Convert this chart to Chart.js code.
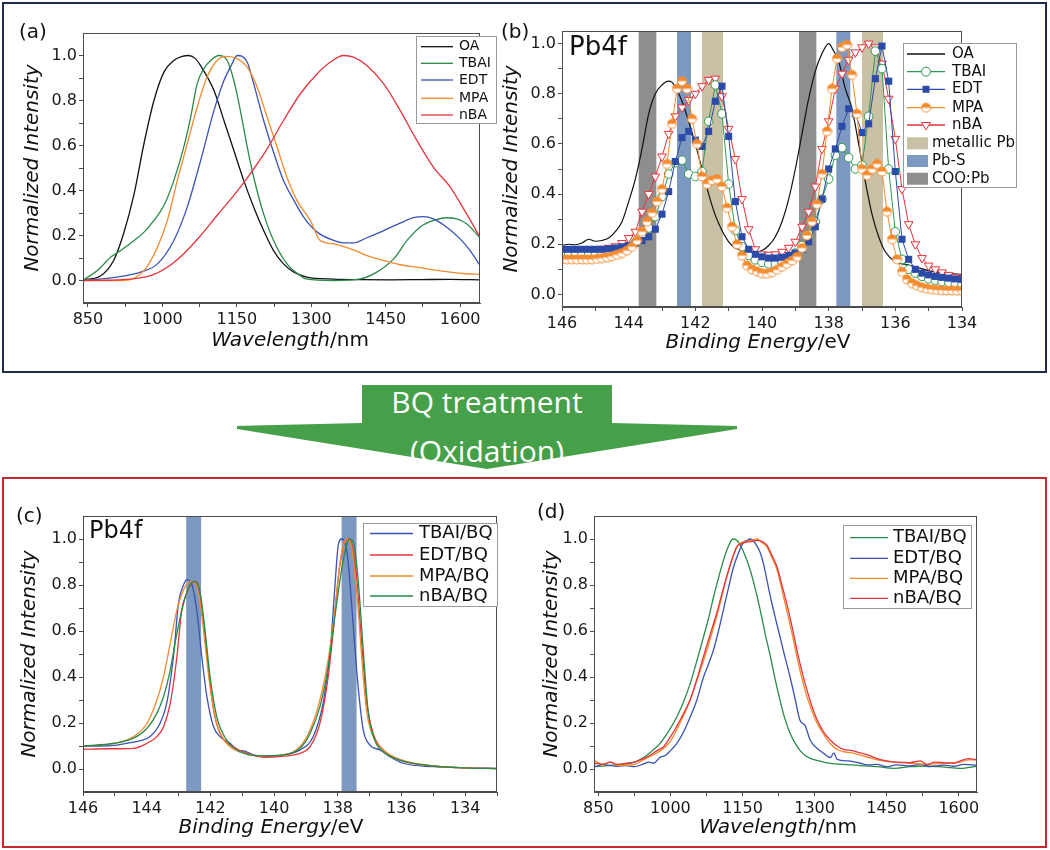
<!DOCTYPE html>
<html><head><meta charset="utf-8">
<script src="https://cdn.jsdelivr.net/npm/chart.js@4.4.1/dist/chart.umd.min.js"></script>
<style>
html,body{margin:0;padding:0;background:#fff}
body{position:relative;width:1050px;height:850px;overflow:hidden}
.frame{position:absolute;box-sizing:border-box}
canvas{position:absolute}
.atext{position:absolute;color:#fff;font-family:"Open Sans",sans-serif;font-size:30px;white-space:nowrap;transform:translateX(-50%);line-height:1}
</style></head><body>
<div class="frame" style="left:2px;top:2px;width:1045px;height:371px;border:2px solid #1e2b4a"></div>
<div class="frame" style="left:2px;top:477px;width:1045px;height:371px;border:2px solid #c62a30"></div>
<svg style="position:absolute;left:0;top:0" width="1050" height="850"><polygon points="362,385 612,385 612,423 737,426 737,429 487,469 237,429 237,426 362,423" fill="#46a049"/></svg>
<div class="atext" style="left:487px;top:387px">BQ treatment</div>
<div class="atext" style="left:487px;top:436px">(Oxidation)</div>
<script>
// ===================== DATA =====================
// ---- shared ticks ----
const wlTicks = [850,925,1000,1075,1150,1225,1300,1375,1450,1525,1600];
const wlLabels = [850,1000,1150,1300,1450,1600];
const yTicks = [0,0.1,0.2,0.3,0.4,0.5,0.6,0.7,0.8,0.9,1.0];
const yLabels = [0,0.2,0.4,0.6,0.8,1.0];
const beTicksB = [146,145,144,143,142,141,140,139,138,137,136,135,134];
const beTicksC = [146,145,144,143,142,141,140,139,138,137,136,135,134,133];
const beLabels = [146,144,142,140,138,136,134];

// ---- panel (a): PL before BQ ----
const aOA_x = [841,875,902,922,943,963,983,1003,1023,1040,1053,1067,1083,1104,1124,1144,1164,1184,1204,1224,1244,1265,1291,1345,1400,1460,1520,1580,1640];
const aOA_y = [.003,.02,.09,.21,.385,.61,.80,.926,.978,.996,1.0,.985,.933,.844,.711,.578,.444,.326,.222,.133,.074,.037,.015,.006,.004,.003,.004,.005,.003];
const aTBAI_x = [841,869,896,916,943,963,983,1003,1023,1043,1057,1070,1083,1097,1114,1130,1144,1157,1171,1184,1204,1224,1251,1278,1291,1345,1399,1432,1466,1493,1519,1546,1573,1593,1613,1640];
const aTBAI_y = [.003,.044,.104,.133,.178,.215,.267,.333,.444,.593,.726,.874,.94,.978,1.0,.98,.889,.756,.593,.459,.296,.178,.074,.022,.006,0,.007,.037,.096,.178,.237,.267,.279,.274,.252,.19];
const aEDT_x = [841,909,956,990,1023,1050,1077,1104,1124,1137,1151,1171,1184,1204,1224,1244,1265,1285,1312,1345,1365,1385,1412,1446,1479,1506,1526,1546,1573,1600,1620,1640];
const aEDT_y = [0,.015,.037,.074,.178,.326,.533,.756,.889,.948,1.0,.97,.874,.711,.57,.444,.356,.281,.215,.178,.167,.167,.19,.222,.255,.279,.284,.274,.237,.185,.133,.067];
const aMPA_x = [841,922,963,990,1010,1030,1050,1070,1090,1110,1130,1151,1171,1191,1211,1231,1251,1271,1298,1318,1345,1379,1412,1446,1479,1513,1546,1580,1613,1640];
const aMPA_y = [0,0,.044,.148,.267,.444,.607,.77,.904,.978,.996,.985,.948,.859,.726,.593,.459,.356,.267,.178,.163,.141,.111,.089,.07,.059,.047,.037,.03,.027];
const aNBA_x = [841,909,976,1010,1043,1077,1110,1144,1177,1211,1244,1278,1312,1338,1365,1385,1412,1446,1479,1513,1546,1580,1613,1640];
const aNBA_y = [0,.003,.022,.059,.119,.2,.289,.378,.474,.585,.711,.83,.919,.97,1.0,.993,.956,.874,.756,.622,.504,.415,.296,.193];

// ---- panel (b): XPS Pb4f before BQ ----
const bOA_x = [146.0,145.8,145.6,145.4,145.2,145.0,144.8,144.6,144.4,144.2,
  144.0,143.8,143.6,143.4,143.2,143.0,142.8,142.7,142.55,142.4,
  142.2,142.0,141.8,141.6,141.4,141.2,141.0,140.8,140.6,140.4,
  140.2,140.0,139.8,139.6,139.4,139.2,139.0,138.8,138.6,138.4,
  138.2,138.0,137.85,137.7,137.5,137.3,137.1,136.9,136.7,136.5,
  136.3,136.0,135.7,135.4,135.0,134.5,134.0];
const bOA_y = [.195,.20,.198,.205,.22,.212,.215,.225,.25,.29,
  .37,.46,.58,.72,.80,.835,.85,.845,.815,.77,
  .69,.60,.50,.40,.315,.255,.21,.185,.175,.168,
  .168,.175,.195,.23,.29,.38,.50,.64,.78,.89,
  .96,1.0,.97,.93,.82,.74,.60,.45,.32,.23,
  .17,.13,.12,.11,.095,.085,.08];
const bE = [146.0,145.8,145.6,145.4,145.2,145.0,144.8,144.6,144.4,144.2,
  144.0,143.8,143.6,143.4,143.2,143.0,142.8,142.6,142.4,142.2,
  142.0,141.8,141.6,141.4,141.2,141.0,140.8,140.6,140.4,140.2,
  140.0,139.8,139.6,139.4,139.2,139.0,138.8,138.6,138.4,138.2,
  138.0,137.8,137.6,137.4,137.2,137.0,136.8,136.6,136.4,136.2,
  136.0,135.8,135.6,135.4,135.2,135.0,134.8,134.6,134.4,134.2,
  134.0];
const bTBAI = [.16,.16,.16,.16,.16,.162,.164,.167,.172,.18,
  .19,.205,.23,.265,.31,.39,.48,.525,.535,.48,
  .47,.49,.69,.835,.72,.44,.255,.19,.155,.138,
  .128,.122,.122,.128,.145,.165,.195,.24,.29,.38,
  .46,.555,.585,.545,.50,.515,.71,.97,.90,.50,
  .25,.14,.10,.085,.072,.062,.056,.052,.048,.045,
  .042];
const bEDT = [.18,.18,.18,.18,.18,.18,.18,.182,.185,.19,
  .195,.205,.215,.23,.26,.32,.41,.53,.625,.65,
  .615,.59,.65,.77,.83,.63,.37,.23,.18,.16,
  .15,.145,.145,.148,.155,.165,.18,.21,.27,.38,
  .50,.58,.67,.74,.72,.645,.68,.86,.99,.85,
  .49,.22,.14,.10,.085,.078,.072,.068,.065,.062,
  .06];
const bNBA = [.175,.175,.175,.177,.178,.18,.182,.186,.192,.205,
  .225,.25,.33,.40,.47,.55,.64,.71,.745,.775,
  .80,.83,.855,.86,.79,.66,.54,.38,.26,.18,
  .16,.158,.16,.17,.186,.21,.27,.33,.43,.58,
  .69,.82,.88,.935,.965,.985,1.0,.985,.92,.78,
  .62,.42,.28,.20,.145,.115,.10,.088,.078,.07,
  .066];
const bMPA_x = [146.0,145.85,145.7,145.55,145.4,145.25,145.1,144.95,144.8,144.65,
  144.5,144.35,144.2,144.05,143.9,143.75,143.6,143.45,143.3,143.15,
  143.0,142.85,142.7,142.55,142.4,142.25,142.1,141.95,141.8,141.65,
  141.5,141.35,141.2,141.05,140.9,140.75,140.6,140.45,140.3,140.15,
  140.0,139.85,139.7,139.55,139.4,139.25,139.1,138.95,138.8,138.65,
  138.5,138.35,138.2,138.05,137.9,137.75,137.6,137.45,137.3,137.15,
  137.0,136.85,136.7,136.55,136.4,136.25,136.1,135.95,135.8,135.65,
  135.5,135.35,135.2,135.05,134.9,134.75,134.6,134.45,134.3,134.15,
  134.0];
const bMPA_y = [.14,.14,.14,.14,.14,.14,.14,.142,.145,.148,
  .152,.158,.165,.175,.19,.215,.25,.29,.325,.37,
  .42,.52,.68,.82,.85,.82,.70,.60,.47,.44,
  .455,.46,.43,.345,.27,.20,.155,.115,.10,.092,
  .085,.083,.088,.098,.11,.122,.135,.15,.185,.235,
  .29,.36,.48,.65,.82,.94,.985,.995,.875,.72,
  .50,.475,.50,.52,.49,.33,.22,.14,.09,.06,
  .045,.035,.028,.023,.02,.018,.017,.016,.016,.015,
  .015];
// reference bands (eV ranges)
const bandMetal = [[141.8,141.17],[137.0,136.37]];
const bandPbS = [[142.55,142.13],[137.77,137.35]];
const bandCOO = [[143.7,143.17],[138.89,138.37]];

// ---- panel (c): XPS Pb4f after BQ ----
const cTBAI_x = [146,145.5,144.93,144.5,144.2,143.89,143.58,143.37,143.16,143.0,142.84,142.74,142.58,142.43,142.27,142.11,141.9,141.7,141.38,141.07,141.0,140.65,140.23,139.71,139.19,138.77,138.46,138.25,138.09,137.99,137.88,137.78,137.67,137.52,137.36,137.2,136.99,136.68,136.37,135.95,135.0,134.0,133.0];
const cTBAI_y = [.10,.10,.104,.115,.123,.141,.199,.286,.489,.721,.801,.823,.801,.692,.489,.315,.184,.141,.112,.075,.08,.061,.054,.061,.083,.141,.286,.489,.794,.968,1.0,.99,.895,.634,.358,.17,.104,.083,.054,.025,.01,.005,.003];
const cEDT_x = [146,145.2,144.41,143.99,143.68,143.47,143.26,143.05,142.9,142.74,142.58,142.48,142.37,142.22,142.06,141.9,141.7,141.28,140.86,140.23,139.61,139.19,138.87,138.56,138.3,138.14,137.99,137.83,137.67,137.57,137.41,137.25,137.1,136.89,136.57,136.05,135.0,134.0,133.0];
const cEDT_y = [.086,.088,.09,.112,.141,.184,.286,.489,.692,.765,.808,.816,.794,.649,.431,.257,.155,.097,.068,.051,.057,.068,.097,.199,.402,.605,.823,.968,1.0,.983,.837,.547,.30,.155,.083,.039,.013,.005,.002];
const cMPA_x = [146,145,144.41,143.99,143.68,143.47,143.26,143.05,142.84,142.64,142.48,142.32,142.17,142.01,141.8,141.49,141.07,140.44,139.71,139.19,138.87,138.56,138.3,138.09,137.93,137.78,137.7,137.57,137.41,137.25,137.1,136.89,136.57,136.05,135.0,134.0,133.0];
const cMPA_y = [.10,.112,.141,.199,.30,.402,.547,.692,.779,.816,.808,.721,.547,.358,.199,.112,.075,.057,.061,.097,.17,.30,.475,.692,.895,.99,1.0,.968,.779,.489,.257,.141,.083,.042,.013,.005,.002];
const cNBA_x = [146,145,144.41,143.99,143.68,143.47,143.26,143.05,142.84,142.64,142.5,142.32,142.17,142.01,141.8,141.49,141.07,140.44,139.71,139.19,138.87,138.56,138.3,138.09,137.88,137.72,137.62,137.49,137.36,137.2,137.05,136.84,136.57,136.05,135.0,134.0,133.0];
const cNBA_y = [.10,.112,.134,.177,.242,.315,.431,.591,.721,.801,.816,.765,.605,.402,.228,.126,.075,.057,.061,.09,.155,.271,.446,.663,.866,.975,1.0,.975,.823,.518,.257,.126,.075,.039,.013,.005,.002];
const bandPbS_c = [[142.76,142.29],[137.88,137.41]];

// ---- panel (d): PL after BQ ----
const dTBAI_x = [843,870,900,925,944,960,978,995,1013,1027,1041,1055,1069,1080,1090,1100,1110,1120,1130,1138,1145,1155,1166,1177,1187,1197,1208,1218,1228,1238,1249,1260,1270,1280,1291,1310,1326,1360,1395,1430,1465,1500,1534,1570,1603,1638];
const dTBAI_y = [.01,.015,.02,.03,.05,.075,.11,.16,.225,.29,.37,.47,.575,.66,.75,.83,.905,.965,1.0,.995,.975,.93,.865,.78,.69,.59,.49,.39,.30,.22,.155,.11,.08,.06,.046,.035,.027,.02,.015,.01,.003,.01,.013,.008,.003,.012];
const dEDT_x = [843,860,875,890,909,925,944,955,965,978,990,1000,1013,1027,1041,1055,1069,1080,1090,1100,1110,1120,1131,1140,1152,1160,1166,1173,1180,1187,1194,1201,1208,1218,1228,1238,1249,1260,1270,1280,1291,1305,1319,1333,1340,1347,1370,1395,1410,1430,1450,1470,1499,1520,1540,1569,1590,1610,1638];
const dEDT_y = [.01,.02,.015,.012,.015,.01,.022,.03,.025,.05,.06,.08,.11,.16,.225,.30,.40,.46,.52,.60,.69,.78,.875,.93,.985,.995,1.0,.99,.97,.94,.89,.82,.75,.66,.575,.49,.40,.30,.21,.19,.125,.09,.068,.05,.07,.042,.035,.025,.018,.02,.01,.018,.013,.02,.01,.017,.012,.02,.017];
const dMPA_x = [843,860,875,890,909,925,944,958,972,986,1000,1013,1027,1041,1055,1069,1082,1096,1107,1117,1128,1138,1148,1159,1170,1180,1190,1201,1211,1222,1232,1242,1253,1263,1273,1284,1295,1305,1319,1333,1347,1360,1378,1395,1412,1430,1465,1499,1534,1569,1603,1620,1638];
const dMPA_y = [.035,.02,.03,.015,.017,.02,.04,.055,.07,.09,.12,.17,.23,.30,.385,.47,.56,.66,.75,.835,.91,.965,.985,.99,.995,1.0,.985,.965,.92,.865,.78,.69,.59,.49,.40,.315,.25,.20,.15,.11,.085,.075,.07,.06,.05,.04,.03,.025,.02,.025,.03,.04,.04];
const dNBA_x = [843,860,875,890,909,925,944,958,972,986,1000,1013,1027,1041,1055,1069,1082,1096,1107,1117,1128,1138,1148,1159,1170,1180,1190,1201,1211,1222,1232,1242,1253,1263,1273,1284,1295,1305,1319,1333,1347,1360,1378,1395,1412,1430,1450,1470,1499,1520,1534,1550,1569,1590,1603,1620,1638];
const dNBA_y = [.025,.02,.03,.02,.025,.03,.045,.06,.08,.097,.14,.185,.24,.30,.39,.49,.58,.675,.76,.835,.91,.965,.98,.987,.99,.994,.99,.972,.93,.878,.80,.72,.62,.52,.43,.345,.27,.215,.16,.125,.10,.085,.08,.07,.06,.045,.035,.03,.028,.035,.02,.03,.027,.025,.035,.045,.04];

// ===================== STYLE / HELPERS =====================
Chart.defaults.font.family = "'DejaVu Sans'";
const FONT = "'DejaVu Sans'";
const AX = '#4d4d4d';
const pts = (xs, ys) => xs.map((x, i) => ({x: x, y: ys[i]}));

const C_BLACK = '#111111', C_GREEN = '#2a8a48', C_BLUE = '#3a52b4', C_ORANGE = '#f48a2c', C_RED = '#e5343c';
const C_GREEN_B = '#2e9a50', C_BLUE_B = '#2c4aa8';
const BAND_METAL = 'rgb(201,193,166)', BAND_PBS = 'rgb(126,153,193)', BAND_COO = 'rgb(142,142,142)';

const halfImg = (function(){
  const r = 4.5, s = 11, c = document.createElement('canvas');
  c.width = s; c.height = s;
  const g = c.getContext('2d'), cx = s/2, cy = s/2;
  g.beginPath(); g.arc(cx, cy, r, 0, 2*Math.PI); g.fillStyle = '#fff'; g.fill();
  g.beginPath(); g.arc(cx, cy, r, Math.PI, 2*Math.PI); g.closePath(); g.fillStyle = C_ORANGE; g.fill();
  g.beginPath(); g.arc(cx, cy, r, 0, 2*Math.PI); g.strokeStyle = C_ORANGE; g.lineWidth = 1; g.stroke();
  return c;
})();

function drawMarker(ctx, kind, x, y, color){
  ctx.save(); ctx.lineWidth = 1; ctx.strokeStyle = color;
  if (kind === 'circle') { ctx.beginPath(); ctx.arc(x, y, 4.5, 0, 2*Math.PI); ctx.fillStyle = '#fff'; ctx.fill(); ctx.stroke(); }
  else if (kind === 'square') { ctx.fillStyle = color; ctx.fillRect(x-3.5, y-3.5, 7, 7); }
  else if (kind === 'half') { ctx.drawImage(halfImg, x - halfImg.width/2, y - halfImg.height/2); }
  else if (kind === 'tri') { ctx.beginPath(); ctx.moveTo(x-4.5, y-2.5); ctx.lineTo(x+4.5, y-2.5); ctx.lineTo(x, y+5); ctx.closePath(); ctx.fillStyle = '#fff'; ctx.fill(); ctx.stroke(); }
  ctx.restore();
}

function axisCfg(o){
  return {
    type: 'linear', min: o.min, max: o.max, reverse: !!o.reverse,
    afterBuildTicks: s => { s.ticks = o.ticks.map(v => ({value: v})); },
    afterFit: o.fit,
    ticks: { autoSkip: false, maxRotation: 0, minRotation: 0, padding: o.pad, color: '#1a1a1a',
      font: {family: FONT, size: 16},
      callback: v => o.labels.some(l => Math.abs(l - v) < 1e-9) ? o.fmt(v) : '' },
    grid: { drawOnChartArea: false, drawTicks: true, tickLength: 4, color: AX, lineWidth: 1 },
    border: { display: true, color: AX, width: 1 }
  };
}

function makePanel(cfg){
  const cv = document.createElement('canvas');
  cv.width = cfg.W; cv.height = cfg.H;
  cv.style.left = cfg.L + 'px'; cv.style.top = cfg.T + 'px';
  cv.style.width = cfg.W + 'px'; cv.style.height = cfg.H + 'px';
  document.body.appendChild(cv);
  const ox = cfg.L, oy = cfg.T;
  const decor = {
    id: 'decor',
    beforeDatasetsDraw(chart){
      if (!cfg.bands) return;
      const ctx = chart.ctx, ca = chart.chartArea, x = chart.scales.x;
      ctx.save();
      ctx.beginPath(); ctx.rect(ca.left, ca.top, ca.right - ca.left, ca.bottom - ca.top); ctx.clip();
      cfg.bands.forEach(b => {
        b.ranges.forEach(r => {
          const p1 = x.getPixelForValue(r[0]), p2 = x.getPixelForValue(r[1]);
          ctx.fillStyle = b.color;
          ctx.fillRect(Math.min(p1, p2), ca.top, Math.abs(p2 - p1), ca.bottom - ca.top);
        });
      });
      ctx.restore();
    },
    afterDraw(chart){
      const ctx = chart.ctx, ca = chart.chartArea;
      ctx.save();
      ctx.strokeStyle = AX; ctx.lineWidth = 1;
      ctx.strokeRect(Math.round(ca.left) + 0.5, Math.round(ca.top) + 0.5, Math.round(ca.right - ca.left) - 1, Math.round(ca.bottom - ca.top) - 1);
      // texts
      ctx.fillStyle = '#111'; ctx.textBaseline = 'middle'; ctx.textAlign = 'left';
      cfg.texts.forEach(t => { ctx.font = t.size + 'px ' + FONT; ctx.fillText(t.text, t.x - ox, t.y - oy); });
      // y title
      ctx.save();
      ctx.translate(cfg.yTitle.cx - ox, cfg.yTitle.cy - oy); ctx.rotate(-Math.PI/2);
      ctx.font = 'italic 20px ' + FONT; ctx.textAlign = 'center';
      ctx.fillText(cfg.yTitle.text, 0, 0);
      ctx.restore();
      // x title (italic + upright)
      ctx.font = 'italic 20px ' + FONT; const w1 = ctx.measureText(cfg.xTitle.it).width;
      ctx.font = '20px ' + FONT; const w2 = ctx.measureText(cfg.xTitle.rest).width;
      const x0 = cfg.xTitle.cx - ox - (w1 + w2)/2;
      ctx.textAlign = 'left';
      ctx.font = 'italic 20px ' + FONT; ctx.fillText(cfg.xTitle.it, x0, cfg.xTitle.cy - oy);
      ctx.font = '20px ' + FONT; ctx.fillText(cfg.xTitle.rest, x0 + w1, cfg.xTitle.cy - oy);
      // legend
      const lg = cfg.legend;
      ctx.fillStyle = '#fff'; ctx.fillRect(lg.x - ox, lg.y - oy, lg.w, lg.h);
      ctx.strokeStyle = '#9a9a9a'; ctx.lineWidth = 1;
      ctx.strokeRect(lg.x - ox + 0.5, lg.y - oy + 0.5, lg.w, lg.h);
      ctx.font = lg.size + 'px ' + FONT; ctx.textBaseline = 'middle';
      lg.items.forEach((it, i) => {
        const y = lg.rows[i] - oy;
        if (it.band) {
          ctx.fillStyle = it.color; ctx.fillRect(lg.sx - ox, y - lg.sh/2, lg.sw, lg.sh);
          ctx.fillStyle = '#111'; ctx.fillText(it.label, lg.btx - ox, y);
        } else {
          ctx.strokeStyle = it.color; ctx.lineWidth = 1.3;
          ctx.beginPath(); ctx.moveTo(lg.l0 - ox, y); ctx.lineTo(lg.l1 - ox, y); ctx.stroke();
          if (it.marker) drawMarker(ctx, it.marker, (lg.l0 + lg.l1)/2 - ox, y, it.color);
          ctx.fillStyle = '#111'; ctx.fillText(it.label, lg.tx - ox, y);
        }
      });
      ctx.restore();
    }
  };
  return new Chart(cv, {
    type: 'line',
    data: { datasets: cfg.datasets },
    options: {
      responsive: false, animation: false, devicePixelRatio: 1,
      layout: { autoPadding: false, padding: { left: 0, top: cfg.PT - cfg.T, right: (cfg.L + cfg.W) - cfg.PR, bottom: 0 } },
      plugins: { legend: { display: false }, tooltip: { enabled: false } },
      elements: { point: { radius: 0 }, line: { borderWidth: 1.3 } },
      scales: {
        x: axisCfg(Object.assign({}, cfg.x, { pad: 3, fit: s => { s.height = (cfg.T + cfg.H) - cfg.PB; } })),
        y: axisCfg(Object.assign({}, cfg.y, { pad: 2, fit: s => { s.width = cfg.PL - cfg.L; } }))
      }
    },
    plugins: [decor]
  });
}

const lineDS = (label, xs, ys, color, w) => ({ label, data: pts(xs, ys), borderColor: color, backgroundColor: color,
  borderWidth: w || 1.3, pointRadius: 0, cubicInterpolationMode: 'monotone', fill: false });
const fmtY = v => v.toFixed(1);
const fmtX = v => String(Math.round(v));

// ===================== PANEL (a) =====================
makePanel({
  L: 5, T: 5, W: 505, H: 365, PL: 83, PT: 33, PR: 480, PB: 303,
  x: { min: 840, max: 1640, ticks: wlTicks, labels: wlLabels, fmt: fmtX },
  y: { min: -0.1, max: 1.1, ticks: yTicks, labels: yLabels, fmt: fmtY },
  datasets: [
    lineDS('nBA', aNBA_x, aNBA_y, C_RED),
    lineDS('MPA', aMPA_x, aMPA_y, C_ORANGE),
    lineDS('EDT', aEDT_x, aEDT_y, C_BLUE),
    lineDS('TBAI', aTBAI_x, aTBAI_y, C_GREEN),
    lineDS('OA', aOA_x, aOA_y, C_BLACK)
  ],
  texts: [{text: '(a)', x: 19, y: 33, size: 20}],
  yTitle: {text: 'Normalized Intensity', cx: 33, cy: 168},
  xTitle: {it: 'Wavelength', rest: '/nm', cx: 290, cy: 341},
  legend: { x: 416, y: 36, w: 80, h: 87, size: 14, rows: [46.7, 63.3, 80, 98.3, 115], l0: 421, l1: 453, tx: 459,
    items: [{label:'OA', color:C_BLACK}, {label:'TBAI', color:C_GREEN}, {label:'EDT', color:C_BLUE}, {label:'MPA', color:C_ORANGE}, {label:'nBA', color:C_RED}] }
});

// ===================== PANEL (b) =====================
makePanel({
  L: 495, T: 5, W: 550, H: 365, PL: 562, PT: 31, PR: 962, PB: 307,
  x: { min: 134, max: 146, reverse: true, ticks: beTicksB, labels: beLabels, fmt: fmtX },
  y: { min: -0.05, max: 1.05, ticks: yTicks, labels: yLabels, fmt: fmtY },
  bands: [{ranges: bandCOO, color: BAND_COO}, {ranges: bandPbS, color: BAND_PBS}, {ranges: bandMetal, color: BAND_METAL}],
  datasets: [
    { label: 'MPA', data: pts(bMPA_x, bMPA_y), borderColor: C_ORANGE, borderWidth: 1, tension: 0,
      pointStyle: halfImg, pointRadius: 4.5 },
    { label: 'EDT', data: pts(bE, bEDT), borderColor: C_BLUE_B, borderWidth: 1, tension: 0,
      pointStyle: 'rect', pointRadius: 5, pointBackgroundColor: C_BLUE_B, pointBorderColor: C_BLUE_B, pointBorderWidth: 0 },
    { label: 'TBAI', data: pts(bE, bTBAI), borderColor: C_GREEN_B, borderWidth: 1, tension: 0,
      pointStyle: 'circle', pointRadius: 4.3, pointBackgroundColor: '#fff', pointBorderColor: C_GREEN_B, pointBorderWidth: 1 },
    { label: 'nBA', data: pts(bE, bNBA), borderColor: C_RED, borderWidth: 1, tension: 0,
      pointStyle: 'triangle', rotation: 180, pointRotation: 180, pointRadius: 5, pointBackgroundColor: '#fff', pointBorderColor: C_RED, pointBorderWidth: 1 },
    lineDS('OA', bOA_x, bOA_y, C_BLACK, 1.2)
  ],
  texts: [{text: '(b)', x: 501, y: 33, size: 20}, {text: 'Pb4f', x: 569, y: 48, size: 26}],
  yTitle: {text: 'Normalized Intensity', cx: 512, cy: 169},
  xTitle: {it: 'Binding Energy', rest: '/eV', cx: 758, cy: 343},
  legend: { x: 903, y: 43, w: 113, h: 144, size: 15, rows: [54, 71.7, 89.3, 107.7, 125, 143.3, 161, 178.7],
    l0: 907, l1: 945, tx: 952, sx: 907, sw: 21, sh: 12, btx: 932,
    items: [{label:'OA', color:C_BLACK}, {label:'TBAI', color:C_GREEN_B, marker:'circle'}, {label:'EDT', color:C_BLUE_B, marker:'square'},
      {label:'MPA', color:C_ORANGE, marker:'half'}, {label:'nBA', color:C_RED, marker:'tri'},
      {label:'metallic Pb', color:BAND_METAL, band:true}, {label:'Pb-S', color:BAND_PBS, band:true}, {label:'COO:Pb', color:BAND_COO, band:true}] }
});

// ===================== PANEL (c) =====================
makePanel({
  L: 5, T: 480, W: 505, H: 365, PL: 83, PT: 516, PR: 497, PB: 792,
  x: { min: 133, max: 146, reverse: true, ticks: beTicksC, labels: beLabels, fmt: fmtX },
  y: { min: -0.1, max: 1.1, ticks: yTicks, labels: yLabels, fmt: fmtY },
  bands: [{ranges: bandPbS_c, color: BAND_PBS}],
  datasets: [
    lineDS('nBA/BQ', cNBA_x, cNBA_y, C_GREEN),
    lineDS('MPA/BQ', cMPA_x, cMPA_y, C_ORANGE),
    lineDS('EDT/BQ', cEDT_x, cEDT_y, C_RED),
    lineDS('TBAI/BQ', cTBAI_x, cTBAI_y, C_BLUE)
  ],
  texts: [{text: '(c)', x: 16, y: 517, size: 20}, {text: 'Pb4f', x: 89, y: 532, size: 24}],
  yTitle: {text: 'Normalized Intensity', cx: 30, cy: 654},
  xTitle: {it: 'Binding Energy', rest: '/eV', cx: 271, cy: 828},
  legend: { x: 363, y: 523, w: 134, h: 83, size: 18, rows: [533.5, 555, 576, 596], l0: 370, l1: 413, tx: 419,
    items: [{label:'TBAI/BQ', color:C_BLUE}, {label:'EDT/BQ', color:C_RED}, {label:'MPA/BQ', color:C_ORANGE}, {label:'nBA/BQ', color:C_GREEN}] }
});

// ===================== PANEL (d) =====================
makePanel({
  L: 515, T: 480, W: 530, H: 365, PL: 594, PT: 516, PR: 977, PB: 792,
  x: { min: 841, max: 1638, ticks: wlTicks, labels: wlLabels, fmt: fmtX },
  y: { min: -0.1, max: 1.1, ticks: yTicks, labels: yLabels, fmt: fmtY },
  datasets: [
    lineDS('nBA/BQ', dNBA_x, dNBA_y, C_RED),
    lineDS('MPA/BQ', dMPA_x, dMPA_y, C_ORANGE),
    lineDS('EDT/BQ', dEDT_x, dEDT_y, C_BLUE),
    lineDS('TBAI/BQ', dTBAI_x, dTBAI_y, C_GREEN)
  ],
  texts: [{text: '(d)', x: 537, y: 513, size: 20}],
  yTitle: {text: 'Normalized Intensity', cx: 552, cy: 654},
  xTitle: {it: 'Wavelength', rest: '/nm', cx: 778, cy: 828},
  legend: { x: 843, y: 525, w: 128, h: 83, size: 18, rows: [537.7, 558.3, 578.3, 598.3], l0: 850, l1: 888, tx: 893,
    items: [{label:'TBAI/BQ', color:C_GREEN}, {label:'EDT/BQ', color:C_BLUE}, {label:'MPA/BQ', color:C_ORANGE}, {label:'nBA/BQ', color:C_RED}] }
});
</script>
</body></html>
